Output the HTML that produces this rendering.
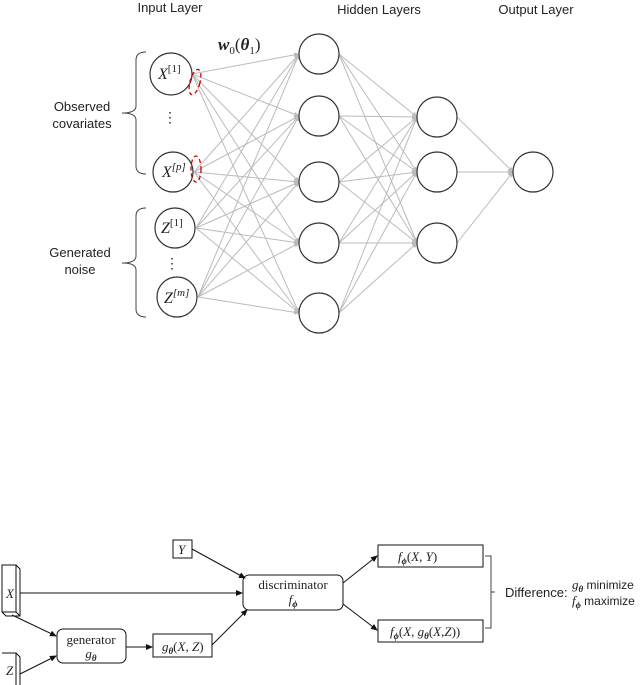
<!DOCTYPE html>
<html><head><meta charset="utf-8"><style>
html,body{margin:0;padding:0;background:#fff;}
svg{display:block;}
.s{font-family:"Liberation Sans",sans-serif;font-size:13px;fill:#222;}
.m{font-family:"Liberation Serif",serif;font-style:italic;fill:#222;}
.r{font-family:"Liberation Serif",serif;fill:#222;}
</style></head><body>
<svg width="640" height="685" viewBox="0 0 640 685" xmlns="http://www.w3.org/2000/svg">
<defs>
<marker id="ga" markerWidth="6" markerHeight="6" refX="5" refY="3" orient="auto" markerUnits="userSpaceOnUse"><path d="M0,0.5 L6,3 L0,5.5z" fill="#bbb"/></marker>
<marker id="ba" markerWidth="7" markerHeight="7" refX="6" refY="3.5" orient="auto" markerUnits="userSpaceOnUse"><path d="M0,0.5 L7,3.5 L0,6.5z" fill="#111"/></marker>
</defs>
<text class="s" x="170" y="12" text-anchor="middle">Input Layer</text>
<text class="s" x="379" y="14" text-anchor="middle">Hidden Layers</text>
<text class="s" x="536" y="14" text-anchor="middle">Output Layer</text>
<g stroke="#bbb" stroke-width="1" marker-end="url(#ga)" id="L"></g>
<script>
var ns="http://www.w3.org/2000/svg",g=document.getElementById("L");
function ln(a,b,c,d){var l=document.createElementNS(ns,"line");l.setAttribute("x1",a);l.setAttribute("y1",b);l.setAttribute("x2",c);l.setAttribute("y2",d);g.appendChild(l);}
var I=[[192,74],[194,172],[196,228],[198,297]],H1=[54,116,182,243,313],H2=[117,172,243];
I.forEach(function(p){H1.forEach(function(y){ln(p[0],p[1],299,y);});});
H1.forEach(function(y){H2.forEach(function(z){ln(339,y,417,z);});});
H2.forEach(function(z){ln(457,z,513,172);});
</script>
<g fill="#fff" stroke="#333" stroke-width="1.2">
<circle cx="171" cy="74" r="21"/><circle cx="173" cy="172" r="20"/><circle cx="175" cy="228" r="20"/><circle cx="177" cy="297" r="20"/>
<circle cx="319" cy="54" r="20"/><circle cx="319" cy="116" r="20"/><circle cx="319" cy="182" r="20"/><circle cx="319" cy="243" r="20"/><circle cx="319" cy="313" r="20"/>
<circle cx="437" cy="117" r="20"/><circle cx="437" cy="172" r="20"/><circle cx="437" cy="243" r="20"/>
<circle cx="533" cy="172" r="20"/>
</g>
<text class="m" x="158" y="79" font-size="16">X<tspan class="r" font-style="normal" font-size="11" dy="-7">[1]</tspan></text>
<text class="m" x="162" y="177" font-size="16">X<tspan class="r" font-size="11" dy="-7">[p]</tspan></text>
<text class="m" x="161" y="233" font-size="16">Z<tspan class="r" font-style="normal" font-size="11" dy="-7">[1]</tspan></text>
<text class="m" x="164" y="303" font-size="16">Z<tspan class="r" font-size="11" dy="-7">[m]</tspan></text>
<text class="r" x="170" y="122" font-size="14" text-anchor="middle">⋮</text>
<text class="r" x="172" y="268" font-size="14" text-anchor="middle">⋮</text>
<g fill="none" stroke="#c00" stroke-width="1.3" stroke-dasharray="4,3">
<ellipse cx="195" cy="82" rx="5" ry="13" transform="rotate(15 195 82)"/>
<ellipse cx="196" cy="169" rx="5" ry="13"/>
</g>
<text x="218" y="50" font-family="Liberation Serif,serif" font-size="17" font-weight="bold" font-style="italic" fill="#222">w<tspan font-size="11" font-weight="normal" font-style="normal" dy="4">0</tspan><tspan font-weight="normal" font-style="normal" dy="-4">(</tspan>θ<tspan font-size="11" font-weight="normal" font-style="normal" dy="4">1</tspan><tspan font-weight="normal" font-style="normal" dy="-4">)</tspan></text>
<g fill="none" stroke="#444" stroke-width="1">
<path d="M146,52 Q136,52 136,60 L136,106 Q136,113 122,113 Q136,113 136,120 L136,166 Q136,174 146,174"/>
<path d="M146,208 Q136,208 136,216 L136,256 Q136,263 122,263 Q136,263 136,270 L136,309 Q136,317 146,317"/>
</g>
<text class="s" x="82" y="111" text-anchor="middle">Observed</text>
<text class="s" x="82" y="128" text-anchor="middle">covariates</text>
<text class="s" x="80" y="257" text-anchor="middle">Generated</text>
<text class="s" x="80" y="274" text-anchor="middle">noise</text>

<!-- bottom -->
<g stroke="#111" stroke-width="1" fill="#fff">
<path d="M2,565 L16,565 L20,569 L20,616 L6,616 L2,612z"/><path d="M16,565 L16,612 L2,612 M16,612 L20,616" fill="none"/>
<path d="M2,653 L16,653 L20,657 L20,690 M16,653 L16,690" />
<rect x="173" y="540" width="19" height="18"/>
<rect x="57" y="629" width="69" height="34" rx="6"/>
<rect x="153" y="634" width="59" height="23"/>
<rect x="243" y="575" width="100" height="35" rx="6"/>
<rect x="378" y="545" width="105" height="22"/>
<rect x="378" y="620" width="105" height="22"/>
</g>
<g stroke="#111" stroke-width="1" fill="none" marker-end="url(#ba)">
<line x1="20" y1="593" x2="242" y2="593"/>
<line x1="12" y1="615" x2="56" y2="636"/>
<line x1="20" y1="674" x2="56" y2="656"/>
<line x1="126" y1="647" x2="152" y2="647"/>
<line x1="212" y1="645" x2="247" y2="610"/>
<line x1="192" y1="549" x2="245" y2="578"/>
<line x1="343" y1="583" x2="377" y2="556"/>
<line x1="343" y1="604" x2="377" y2="630"/>
</g>
<path d="M485,556 L491,556 L491,628 L485,628 M491,592 L495,592" fill="none" stroke="#444"/>
<text class="m" x="6" y="598" font-size="13">X</text>
<text class="m" x="6" y="675" font-size="13">Z</text>
<text class="m" x="178" y="554" font-size="13">Y</text>
<text class="r" x="91" y="644" font-size="13" text-anchor="middle">generator</text>
<text class="m" x="91" y="658" font-size="13" text-anchor="middle">g<tspan font-size="9" font-weight="bold" dy="3">θ</tspan></text>
<text class="m" x="162" y="651" font-size="13">g<tspan font-size="9" font-weight="bold" dy="3">θ</tspan><tspan font-style="normal" dy="-3">(</tspan>X<tspan font-style="normal">, </tspan>Z<tspan font-style="normal">)</tspan></text>
<text class="r" x="293" y="589" font-size="13" text-anchor="middle">discriminator</text>
<text class="m" x="293" y="604" font-size="13" text-anchor="middle">f<tspan font-size="9" font-weight="bold" dy="3">ϕ</tspan></text>
<text class="m" x="398" y="561" font-size="13">f<tspan font-size="9" font-weight="bold" dy="3">ϕ</tspan><tspan font-style="normal" dy="-3">(</tspan>X<tspan font-style="normal">, </tspan>Y<tspan font-style="normal">)</tspan></text>
<text class="m" x="390" y="636" font-size="13">f<tspan font-size="9" font-weight="bold" dy="3">ϕ</tspan><tspan font-style="normal" dy="-3">(</tspan>X<tspan font-style="normal">, </tspan>g<tspan font-size="9" font-weight="bold" dy="3">θ</tspan><tspan font-style="normal" dy="-3">(</tspan>X<tspan font-style="normal">,</tspan>Z<tspan font-style="normal">))</tspan></text>
<text class="s" x="505" y="597" font-size="12">Difference:</text>
<text class="m" x="572" y="589" font-size="13">g<tspan font-size="9" font-weight="bold" dy="3">θ</tspan><tspan font-family="Liberation Sans,sans-serif" font-style="normal" font-size="12" dy="-3"> minimize</tspan></text>
<text class="m" x="572" y="605" font-size="13">f<tspan font-size="9" font-weight="bold" dy="3">ϕ</tspan><tspan font-family="Liberation Sans,sans-serif" font-style="normal" font-size="12" dy="-3"> maximize</tspan></text>
</svg>
</body></html>
